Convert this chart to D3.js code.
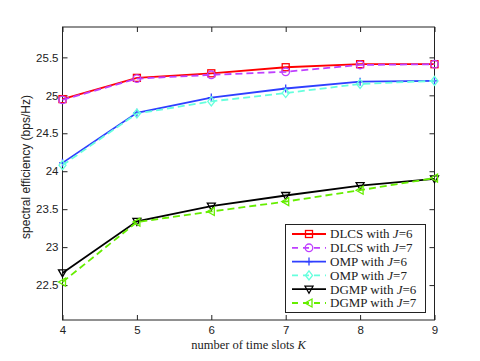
<!DOCTYPE html>
<html><head><meta charset="utf-8">
<script src="https://cdn.jsdelivr.net/npm/d3@7"></script>
<style>body{margin:0;background:#fff}svg{display:block}</style>
</head><body>
<svg id="c" width="480" height="361"></svg>
<script>
const K = [4,5,6,7,8,9];
const dlcsJ6 = [24.95, 25.23, 25.29, 25.37, 25.41, 25.41];
const dlcsJ7 = [24.94, 25.22, 25.27, 25.31, 25.40, 25.41];
const ompJ6  = [24.11, 24.77, 24.97, 25.09, 25.18, 25.19];
const ompJ7  = [24.08, 24.76, 24.92, 25.03, 25.15, 25.19];
const dgmpJ6 = [22.66, 23.34, 23.54, 23.68, 23.81, 23.90];
const dgmpJ7 = [22.54, 23.33, 23.47, 23.60, 23.75, 23.91];
const xTicks = [4,5,6,7,8,9];
const yTicks = [22.5,23,23.5,24,24.5,25,25.5];
const seriesNames = ["DLCS","DLCS","OMP","OMP","DGMP","DGMP"];
const seriesJ = ["6","7","6","7","6","7"];

const series = [
  {v:dlcsJ6, color:"#ff0000", dash:null, marker:"square"},
  {v:dlcsJ7, color:"#bf3fff", dash:"7,4", marker:"circle"},
  {v:ompJ6, color:"#2f3fff", dash:null, marker:"plus"},
  {v:ompJ7, color:"#66ffdd", dash:"7,4", marker:"diamond"},
  {v:dgmpJ6, color:"#000000", dash:null, marker:"tridown"},
  {v:dgmpJ7, color:"#66ee00", dash:"7,4", marker:"trileft"}
];

const svg = d3.select("#c");
const L=62.5, R=434.5, T=27, B=320;
const x = d3.scaleLinear().domain([4,9]).range([L,R]);
const y = d3.scaleLinear().domain([22.04,25.9]).range([B,T]);

function marker(g, type, cx, cy, color){
  const s=3.5;
  let p;
  if(type==="square") p=g.append("rect").attr("x",cx-s).attr("y",cy-s).attr("width",2*s).attr("height",2*s);
  else if(type==="circle") p=g.append("circle").attr("cx",cx).attr("cy",cy).attr("r",s+0.3);
  else if(type==="plus") p=g.append("path").attr("d",`M${cx-s},${cy}H${cx+s}M${cx},${cy-s-0.5}V${cy+s+0.5}`);
  else if(type==="diamond") p=g.append("path").attr("d",`M${cx},${cy-s-1}L${cx+s},${cy}L${cx},${cy+s+1}L${cx-s},${cy}Z`);
  else if(type==="tridown") p=g.append("path").attr("d",`M${cx-s-0.5},${cy-s+0.5}L${cx+s+0.5},${cy-s+0.5}L${cx},${cy+s+0.5}Z`);
  else if(type==="trileft") p=g.append("path").attr("d",`M${cx-s-0.5},${cy}L${cx+s-0.5},${cy-s-0.5}L${cx+s-0.5},${cy+s+0.5}Z`);
  p.attr("fill","none").attr("stroke",color).attr("stroke-width",1.3);
}

// axes frame with inward ticks
const ax = svg.append("g");
const xb = d3.axisBottom(x).tickValues(xTicks).tickSizeInner(-5).tickSizeOuter(0).tickPadding(6).tickFormat(d3.format("d"));
const xt = d3.axisTop(x).tickValues(xTicks).tickSizeInner(-5).tickSizeOuter(0).tickFormat("");
const yl = d3.axisLeft(y).tickValues(yTicks).tickSizeInner(-5).tickSizeOuter(0).tickPadding(4).tickFormat(d=>String(d));
const yr = d3.axisRight(y).tickValues(yTicks).tickSizeInner(-5).tickSizeOuter(0).tickFormat("");
[ [xb,`translate(0,${B})`],[xt,`translate(0,${T})`],[yl,`translate(${L},0)`],[yr,`translate(${R},0)`] ].forEach(([a,t])=>{
  const g=ax.append("g").attr("transform",t).call(a);
  g.select(".domain").remove();
  g.selectAll("line").attr("stroke","#222");
  g.selectAll("text").attr("font-family","Liberation Sans, Arial, sans-serif").attr("font-size","11.5px").attr("fill","#222");
});
ax.append("rect").attr("x",L).attr("y",T).attr("width",R-L).attr("height",B-T).attr("fill","none").attr("stroke","#222").attr("stroke-width",1);

// lines
const line = d3.line().x((d,i)=>x(K[i])).y(d=>y(d));
series.forEach(s=>{
  const g=svg.append("g");
  g.append("path").datum(s.v).attr("d",line).attr("fill","none").attr("stroke",s.color).attr("stroke-width",1.8).attr("stroke-dasharray",s.dash);
  s.v.forEach((v,i)=>marker(g,s.marker,x(K[i]),y(v),s.color));
});

// labels
svg.append("text").attr("x",(L+R)/2).attr("y",348.5).attr("text-anchor","middle")
  .attr("font-family","Liberation Serif, Times New Roman, serif").attr("font-size","12.5px").attr("fill","#222")
  .call(t=>{t.append("tspan").text("number of time slots "); t.append("tspan").attr("font-style","italic").text("K");});
svg.append("text").attr("transform",`translate(30,167) rotate(-90)`).attr("text-anchor","middle")
  .attr("font-family","Liberation Sans, Arial, sans-serif").attr("font-size","12px").attr("fill","#222")
  .text("spectral efficiency (bps/Hz)");

// legend
const lg = svg.append("g");
lg.append("rect").attr("x",285.5).attr("y",224.5).attr("width",140).attr("height",88).attr("fill","#fff").attr("stroke","#222").attr("stroke-width",1);
series.forEach((s,i)=>{
  const yy = 234 + i*13.8;
  lg.append("line").attr("x1",292).attr("x2",326).attr("y1",yy).attr("y2",yy).attr("stroke",s.color).attr("stroke-width",1.8).attr("stroke-dasharray",s.dash?"6,5":null);
  marker(lg,s.marker,309,yy,s.color);
  lg.append("text").attr("x",330).attr("y",yy+4.3).attr("font-family","Liberation Serif, Times New Roman, serif").attr("font-size","13px").attr("fill","#222")
    .call(t=>{t.append("tspan").text(seriesNames[i]+" with "); t.append("tspan").attr("font-style","italic").text("J"); t.append("tspan").text("="+seriesJ[i]);});
});
</script>
</body></html>
